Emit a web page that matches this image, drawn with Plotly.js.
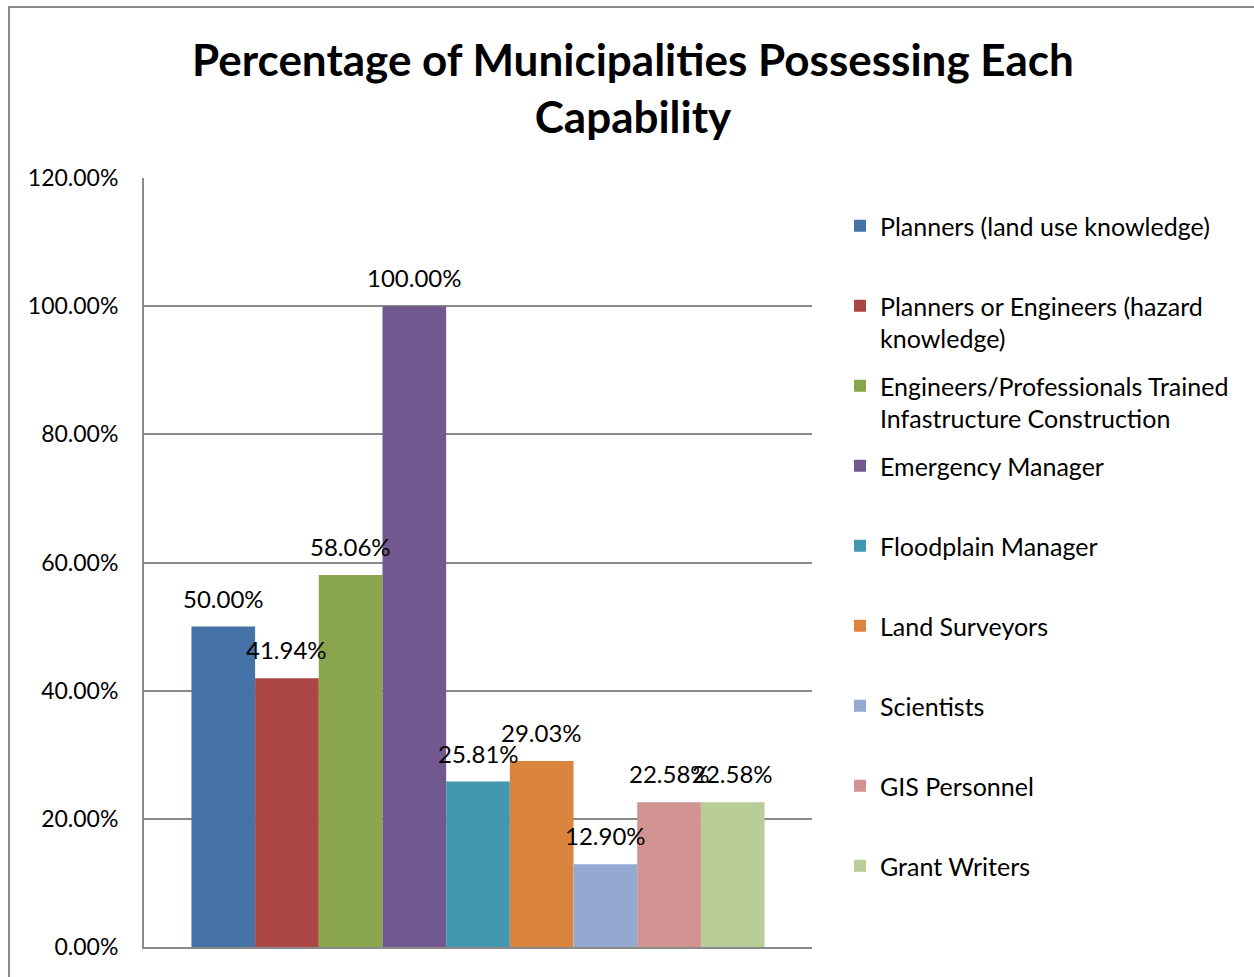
<!DOCTYPE html>
<html>
<head>
<meta charset="utf-8">
<script src="https://cdn.plot.ly/plotly-3.0.1.min.js"></script>
<style>
  html, body { margin: 0; padding: 0; background: #ffffff; }
  #frame { position: absolute; left: 8px; top: 6px; width: 1400px; height: 1100px;
           border-left: 2px solid #8a8a8a; border-top: 2px solid #8a8a8a; }
  #chart { position: absolute; left: 0; top: 0; width: 1254px; height: 977px; }
</style>
</head>
<body>
<div id="frame"></div>
<div id="chart"></div>
<script>
// ---- data ----
const categories = ["Capability"];
const seriesNames = [
  "Planners (land use knowledge)",
  "Planners or Engineers (hazard<br>knowledge)",
  "Engineers/Professionals Trained<br>Infastructure Construction",
  "Emergency Manager",
  "Floodplain Manager",
  "Land Surveyors",
  "Scientists",
  "GIS Personnel",
  "Grant Writers"
];
const seriesValues = [0.5000, 0.4194, 0.5806, 1.0000, 0.2581, 0.2903, 0.1290, 0.2258, 0.2258];
const seriesColors = ["#4572A7", "#AA4643", "#89A54E", "#71588F", "#4198AF", "#DB843D", "#93A9CF", "#D19392", "#B9CD96"];
const yTickValues = [0, 0.2, 0.4, 0.6, 0.8, 1.0, 1.2];

// ---- layout constants ----
const W = 1254, H = 977;
const M = { l: 144, r: 442, t: 178, b: 30 };
const bargap = 0.142;
const FONT = "Lato, 'Open Sans', sans-serif";

const plotW = W - M.l - M.r;
const plotH = H - M.t - M.b;
const nS = seriesValues.length;
const barPx = plotW * (1 - bargap) / nS;

const traces = seriesNames.map((name, i) => ({
  type: "bar",
  name: name.indexOf("<br>") >= 0 ? name : name + "<br> ",
  x: categories,
  y: [seriesValues[i]],
  marker: { color: seriesColors[i], line: { width: 0 } },
  legendgroup: "g" + i,
  hoverinfo: "skip"
}));

const annotations = seriesValues.map((v, i) => ({
  xref: "x", yref: "y",
  x: categories[0], y: v,
  xshift: (i - (nS - 1) / 2) * barPx,
  yshift: 12,
  yanchor: "bottom", xanchor: "center",
  showarrow: false,
  text: (v * 100).toFixed(2) + "%",
  font: { family: FONT, size: 24, color: "#000000" }
}));

const layout = {
  width: W, height: H,
  margin: M,
  paper_bgcolor: "rgba(0,0,0,0)",
  plot_bgcolor: "rgba(0,0,0,0)",
  barmode: "group",
  bargap: bargap,
  bargroupgap: 0,
  title: {
    text: "<b>Percentage of Municipalities Possessing Each<br>Capability</b>",
    font: { family: FONT, size: 44, color: "#000000" },
    x: 633 / W, xanchor: "center", xref: "container",
    y: 1 - 76 / H, yanchor: "top", yref: "container"
  },
  xaxis: {
    type: "category",
    showticklabels: false,
    ticks: "",
    showgrid: false,
    showline: true, linecolor: "#898989", linewidth: 2,
    zeroline: false, fixedrange: true
  },
  yaxis: {
    range: [0, 1.2],
    tickvals: yTickValues,
    tickformat: ".2%",
    ticks: "",
    ticklabelstandoff: 19,
    tickfont: { family: FONT, size: 23, color: "#000000" },
    showgrid: true, gridcolor: "#898989", gridwidth: 2,
    showline: true, linecolor: "#898989", linewidth: 2,
    zeroline: false, fixedrange: true
  },
  showlegend: true,
  legend: {
    x: 1.0 + 28 / plotW, xanchor: "left",
    y: 1 - 25 / plotH, yanchor: "top",
    font: { family: FONT, size: 25, color: "#000000" },
    tracegroupgap: 12,
    valign: "top",
    traceorder: "grouped",
    bgcolor: "rgba(0,0,0,0)"
  },
  annotations: annotations
};

Plotly.newPlot("chart", traces, layout, { displayModeBar: false, staticPlot: true });
</script>
</body>
</html>
